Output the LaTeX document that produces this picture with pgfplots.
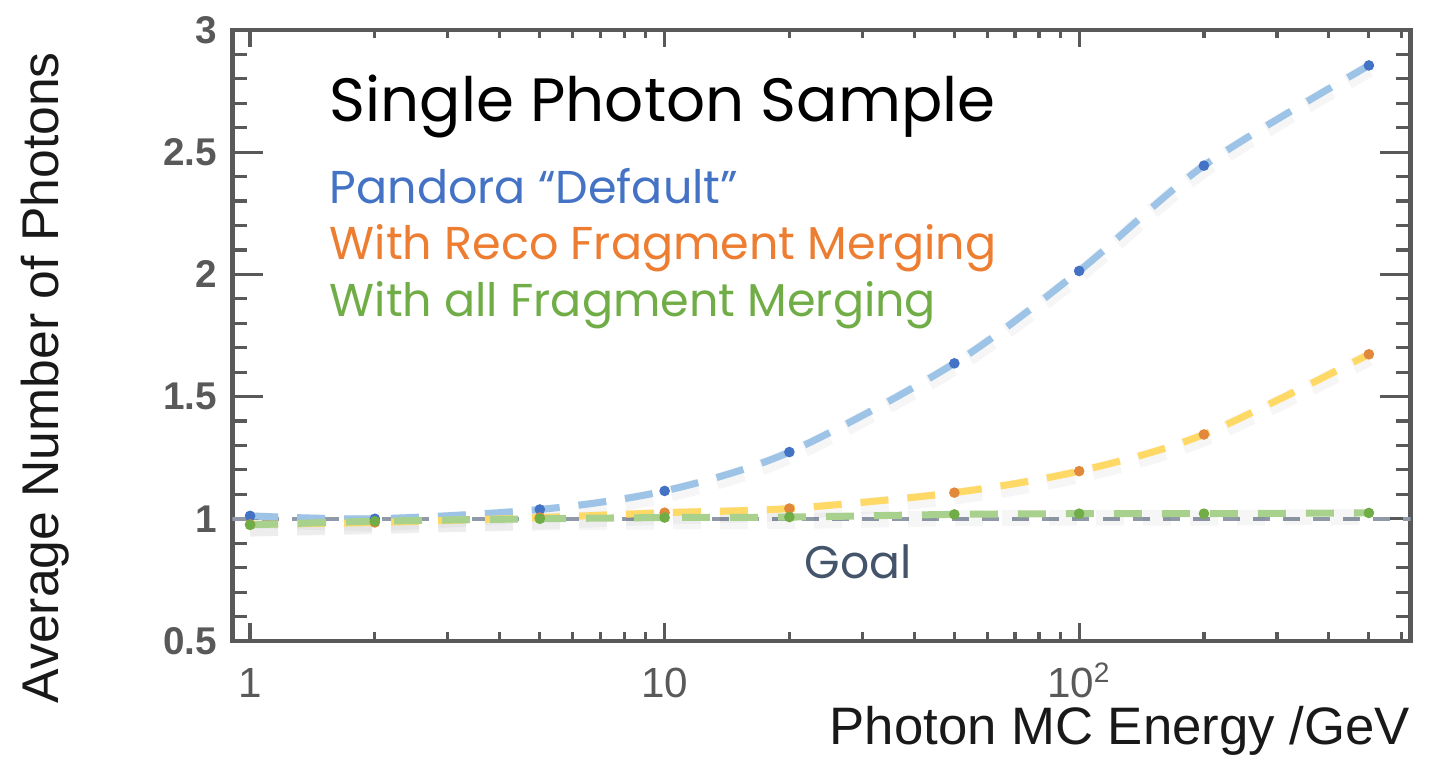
\documentclass[border=0pt]{standalone}
\usepackage{fontspec}
\setmainfont{Liberation Sans}
\newfontfamily\gothic{Poppins}
\usepackage{pgfplots}
\pgfplotsset{compat=1.18}

\definecolor{axgray}{HTML}{595959}
\definecolor{bline}{HTML}{9DC3E6}
\definecolor{oline}{HTML}{FFD966}
\definecolor{gline}{HTML}{A9D18E}
\definecolor{bdot}{HTML}{4472C4}
\definecolor{odot}{HTML}{E2883A}
\definecolor{gdot}{HTML}{70AD47}
\definecolor{btext}{HTML}{4472C4}
\definecolor{otext}{HTML}{ED7D31}
\definecolor{gtext}{HTML}{70AD47}
\definecolor{goalgray}{HTML}{8F99A8}
\definecolor{goaltext}{HTML}{44546A}

% average number of photons vs photon energy (GeV)
\pgfplotstableread{
E     def    reco   all
1     1.012  0.977  0.975
2     1.000  0.985  0.990
5     1.038  1.005  1.000
10    1.114  1.025  1.005
20    1.273  1.042  1.007
50    1.636  1.107  1.018
100   2.014  1.195  1.021
200   2.445  1.345  1.021
500   2.855  1.673  1.024
}\photons

\pgfplotsset{
    curve/.style={line width=2pt, smooth, dash pattern=on 2.8mm off 1.9mm},
    shadow/.style={black, opacity=0.035, line width=4.5pt, smooth,
        dash pattern=on 2.8mm off 1.9mm, yshift=-0.4mm},
    dots/.style={only marks, mark=*, mark size=1.3pt, color=#1},
}

\begin{document}
\begin{tikzpicture}
\useasboundingbox (-23.25mm,-11.9mm) rectangle (120.45mm,64.1mm);
\begin{axis}[
    at={(0,0)}, anchor=south west,
    scale only axis,
    width=117.8mm, height=61.1mm,
    xmode=log,
    xmin=0.907, xmax=630,
    ymin=0.5, ymax=3,
    xtick={1,10,100},
    xticklabels={1,10,10\textsuperscript{2}},
    minor xtick={2,3,4,5,6,7,8,9,20,30,40,50,60,70,80,90,200,300,400,500,600},
    ytick={0.5,1,1.5,2,2.5,3},
    minor y tick num=4,
    /pgf/number format/assume math mode=true,
    axis line style={draw=axgray, line width=1.4pt},
    every tick/.style={draw=axgray, line width=0.9pt},
    xtick style={/pgfplots/major tick length=1.75mm, /pgfplots/minor tick length=0.85mm},
    ytick style={/pgfplots/major tick length=3.1mm, /pgfplots/minor tick length=1.5mm},
    xticklabel style={text=axgray, font=\fontsize{12}{13}\selectfont,
        anchor=base, inner sep=0pt, yshift=-5.7mm},
    yticklabel style={text=axgray, font=\bfseries\fontsize{11}{13}\selectfont, xshift=-0.3mm},
    xlabel={Photon MC Energy /GeV},
    xlabel style={at={(rel axis cs:1,0)}, anchor=base east, yshift=-10.4mm,
        inner sep=0pt, font=\fontsize{15}{18}\selectfont, text=black!90},
    ylabel={Average Number of Photons},
    ylabel style={at={(rel axis cs:0,0.431)}, anchor=center, yshift=18.75mm,
        inner sep=0pt, font=\fontsize{14.7}{18}\selectfont, text=black!90},
]
% goal
\addplot[goalgray, line width=1pt, dash pattern=on 1.7mm off 1.3mm]
    coordinates {(0.907,1) (630,1)};
% soft shadows under the curves
\addplot[shadow] table[x=E, y=def] {\photons};
\addplot[shadow] table[x=E, y=reco] {\photons};
\addplot[shadow] table[x=E, y=all] {\photons};
% curves
\addplot[bline, curve] table[x=E, y=def] {\photons};
\addplot[oline, curve] table[x=E, y=reco] {\photons};
\addplot[gline, curve, dash pattern=on 2.8mm off 2.0mm] table[x=E, y=all] {\photons};
% data points
\addplot[dots=bdot] table[x=E, y=def] {\photons};
\addplot[dots=odot] table[x=E, y=reco] {\photons};
\addplot[dots=gdot] table[x=E, y=all] {\photons};

\node[anchor=base west, inner sep=0pt, font=\gothic\fontsize{17.4}{20}\selectfont]
    at (rel axis cs:0.082,0.85) {Single Photon Sample};
\node[anchor=base west, inner sep=0pt, text=btext, font=\gothic\fontsize{13.1}{15}\selectfont]
    at (rel axis cs:0.082,0.7164) {Pandora “Default”};
\node[anchor=base west, inner sep=0pt, text=otext, font=\gothic\fontsize{13.1}{15}\selectfont]
    at (rel axis cs:0.082,0.6236) {With Reco Fragment Merging};
\node[anchor=base west, inner sep=0pt, text=gtext, font=\gothic\fontsize{13.1}{15}\selectfont]
    at (rel axis cs:0.082,0.5308) {With all Fragment Merging};
\node[anchor=base, inner sep=0pt, text=goaltext, font=\gothic\fontsize{13}{15}\selectfont]
    at (rel axis cs:0.531,0.103) {Goal};
\end{axis}
\end{tikzpicture}
\end{document}
